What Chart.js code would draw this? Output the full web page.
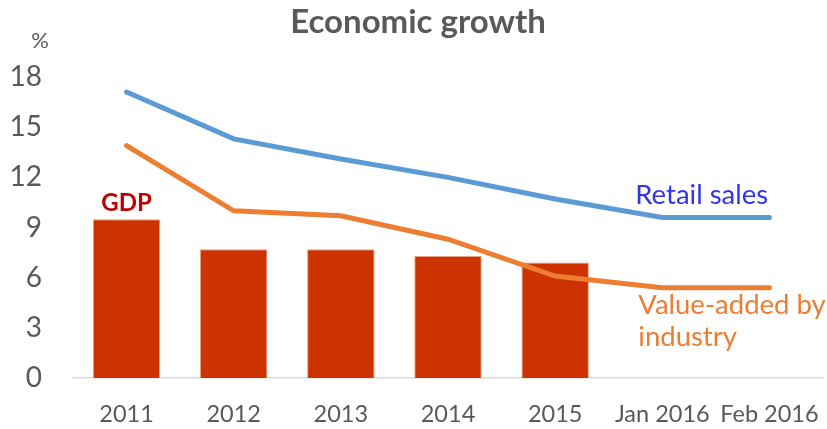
<!DOCTYPE html>
<html>
<head>
<meta charset="utf-8">
<script src="https://cdn.jsdelivr.net/npm/chart.js@4"></script>
<style>
  html, body { margin: 0; padding: 0; background: #fff; }
  #wrap { width: 827px; height: 429px; }
</style>
</head>
<body>
<div id="wrap"><canvas id="mycanvas"></canvas></div>
<script>
var labels = ["2011", "2012", "2013", "2014", "2015", "Jan 2016", "Feb 2016"];
var gdp = [9.5, 7.7, 7.7, 7.3, 6.9, null, null];
var retail = [17.1, 14.3, 13.1, 12.0, 10.7, 9.6, 9.6];
var valueAdded = [13.9, 10.0, 9.7, 8.3, 6.1, 5.4, 5.4];

var FONT = "Lato, 'Open Sans', sans-serif";
var GREY = "#595959";

// titles and series labels, placed off the scales
var textPlugin = {
	id: "texts",
	afterDraw: function(chart) {
		var ctx = chart.ctx;
		var x = chart.scales.x, y = chart.scales.y;
		ctx.save();
		ctx.textBaseline = "alphabetic";

		ctx.fillStyle = GREY;
		ctx.font = "bold 33px " + FONT;
		ctx.textAlign = "center";
		ctx.fillText("Economic growth", 418, 33);

		ctx.font = "22px " + FONT;
		ctx.fillText("%", 40, 48);

		ctx.fillStyle = "#C00000";
		ctx.font = "bold 24px " + FONT;
		ctx.fillText("GDP", x.getPixelForValue(0), y.getPixelForValue(gdp[0]) - 8);

		ctx.textAlign = "left";
		ctx.font = "27.5px " + FONT;
		ctx.fillStyle = "#3333EE";
		ctx.fillText("Retail sales", x.getPixelForValue(5) - 27, y.getPixelForValue(retail[5]) - 13);

		ctx.fillStyle = "#ED7D31";
		ctx.fillText("Value-added by", x.getPixelForValue(5) - 24, y.getPixelForValue(valueAdded[5]) + 26);
		ctx.fillText("industry", x.getPixelForValue(5) - 24, y.getPixelForValue(valueAdded[5]) + 58);
		ctx.restore();
	}
};

var chartdata = {
	labels: labels,
	datasets: [
		{
			type: "line",
			label: "Retail sales",
			data: retail,
			borderColor: "#5B9BD5",
			borderWidth: 5,
			pointRadius: 0,
			tension: 0,
			borderCapStyle: "round",
			order: 1
		},
		{
			type: "line",
			label: "Value-added by industry",
			data: valueAdded,
			borderColor: "#ED7D31",
			borderWidth: 5,
			pointRadius: 0,
			tension: 0,
			borderCapStyle: "round",
			order: 1
		},
		{
			type: "bar",
			label: "GDP",
			data: gdp,
			backgroundColor: "#CC3300",
			borderColor: "#E8A080",
			borderWidth: 1,
			categoryPercentage: 1,
			barPercentage: 0.63,
			order: 2
		}
	]
};

var ctx = document.getElementById("mycanvas");

var chart = new Chart(ctx, {
	type: "bar",
	data: chartdata,
	options: {
		responsive: true,
		maintainAspectRatio: false,
		animation: false,
		layout: { padding: { top: 77, right: 4, bottom: 0, left: 0 } },
		plugins: {
			legend: { display: false },
			title: { display: false },
			tooltip: { enabled: false }
		},
		scales: {
			x: {
				grid: { display: false, drawTicks: false },
				border: { display: true, color: "#D9D9D9", width: 1.5 },
				ticks: { color: GREY, font: { family: FONT, size: 23.5 }, padding: 22, maxRotation: 0, autoSkip: false },
				afterFit: function(scale) {
					scale.height = 51;
					scale.paddingLeft = 0;
					scale.paddingRight = 0;
				}
			},
			y: {
				min: 0,
				max: 18,
				grid: { display: false, drawTicks: false },
				border: { display: false },
				ticks: { stepSize: 3, color: GREY, font: { family: FONT, size: 28 }, padding: 31 },
				afterFit: function(scale) { scale.width = 73; }
			}
		}
	},
	plugins: [textPlugin]
});
</script>
</body>
</html>
